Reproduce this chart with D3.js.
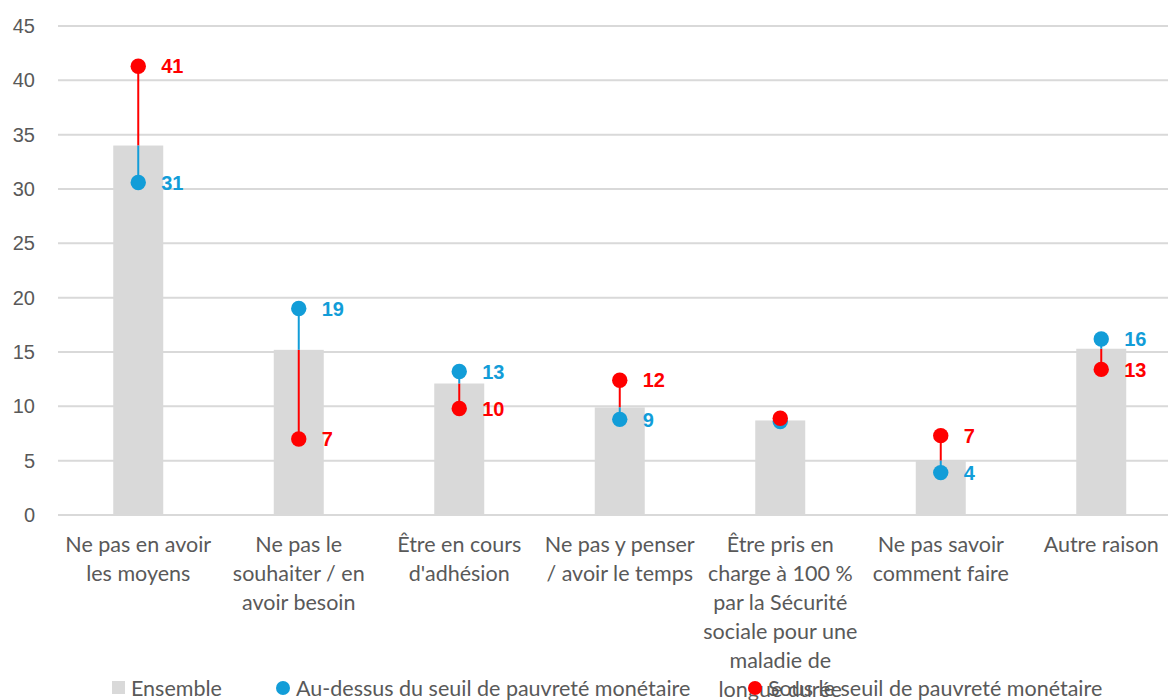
<!DOCTYPE html>
<meta charset="utf-8">
<html>
  <head>
    <style>
      body { margin: 0; background: #fff; }
      text.tick { font-family: "Liberation Sans", Arial, sans-serif; font-size: 20px; fill: #595959; }
      text.cat, text.leg { font-family: Lato, "Open Sans", sans-serif; font-size: 21.5px; fill: #595959; }
      text.lbl { font-family: "Liberation Sans", Arial, sans-serif; font-size: 20px; font-weight: bold; }
      line.grid { stroke: #d9d9d9; stroke-width: 2px; }
    </style>
    <script src="https://d3js.org/d3.v7.min.js"></script>
  </head>
  <body>
    <div id="chart"></div>
    <script type="text/javascript">
      var categories = [
            ["Ne pas en avoir", "les moyens"],
            ["Ne pas le", "souhaiter / en", "avoir besoin"],
            ["Être en cours", "d'adhésion"],
            ["Ne pas y penser", "/ avoir le temps"],
            ["Être pris en", "charge à 100 %", "par la Sécurité", "sociale pour une", "maladie de", "longue durée"],
            ["Ne pas savoir", "comment faire"],
            ["Autre raison"]
          ],
          ensemble = [34.0, 15.2, 12.1, 9.9, 8.7, 5.0, 15.3],
          above    = [30.6, 19.0, 13.2, 8.8, 8.6, 3.9, 16.2],
          below    = [41.3, 7.0, 9.8, 12.4, 8.9, 7.3, 13.4],
          aboveLabels = ["31", "19", "13", "9", null, "4", "16"],
          belowLabels = ["41", "7", "10", "12", null, "7", "13"],
          yTicks = [0, 5, 10, 15, 20, 25, 30, 35, 40, 45],
          legendNames = ["Ensemble", "Au-dessus du seuil de pauvreté monétaire", "Sous le seuil de pauvreté monétaire"];

      var blue = "#129dd8", red = "#ff0000", grey = "#d9d9d9";
      var width = 1168, height = 700;

      var svg = d3.select("#chart").append("svg")
          .attr("width", width)
          .attr("height", height);

      var x = d3.scaleBand()
          .domain(d3.range(categories.length))
          .range([58, 58 + 7 * 160.5]);

      var y = d3.scaleLinear()
          .domain([0, 45])
          .range([515, 26]);

      // gridlines
      svg.selectAll(".grid")
          .data(yTicks)
          .enter().append("line")
            .attr("class", "grid")
            .attr("x1", 58)
            .attr("x2", width)
            .attr("y1", function(d) { return y(d); })
            .attr("y2", function(d) { return y(d); });

      svg.selectAll(".tick")
          .data(yTicks)
          .enter().append("text")
            .attr("class", "tick")
            .attr("x", 35)
            .attr("y", function(d) { return y(d); })
            .attr("dy", "0.35em")
            .style("text-anchor", "end")
            .text(function(d) { return d; });

      var barW = 50;
      var cx = function(i) { return x(i) + x.bandwidth() / 2; };

      // bars
      svg.selectAll(".bar")
          .data(ensemble)
          .enter().append("rect")
            .attr("class", "bar")
            .attr("x", function(d, i) { return cx(i) - barW / 2; })
            .attr("y", function(d) { return y(d); })
            .attr("width", barW)
            .attr("height", function(d) { return y(0) - y(d); })
            .style("fill", grey);

      // error-bar style lines from ensemble value to each series
      var series = [
        { values: below, labels: belowLabels, color: red },
        { values: above, labels: aboveLabels, color: blue }
      ];

      series.forEach(function(s) {
        svg.append("g").selectAll("line")
            .data(s.values)
            .enter().append("line")
              .attr("x1", function(d, i) { return cx(i); })
              .attr("x2", function(d, i) { return cx(i); })
              .attr("y1", function(d, i) { return y(ensemble[i]); })
              .attr("y2", function(d) { return y(d); })
              .style("stroke", s.color)
              .style("stroke-width", 2);
      });

      // dots: blue first, red on top
      [series[1], series[0]].forEach(function(s) {
        svg.append("g").selectAll("circle")
            .data(s.values)
            .enter().append("circle")
              .attr("cx", function(d, i) { return cx(i); })
              .attr("cy", function(d) { return y(d); })
              .attr("r", 7.7)
              .style("fill", s.color);

        var pts = s.values.map(function(v, i) { return { v: v, i: i, t: s.labels[i] }; })
            .filter(function(p) { return p.t != null; });

        svg.append("g").selectAll("text")
            .data(pts)
            .enter().append("text")
              .attr("class", "lbl")
              .attr("x", function(p) { return cx(p.i) + 23; })
              .attr("y", function(p) { return y(p.v); })
              .attr("dy", "0.36em")
              .style("fill", s.color)
              .text(function(p) { return p.t; });
      });

      // category labels
      var catG = svg.selectAll(".catg")
          .data(categories)
          .enter().append("text")
            .attr("class", "cat")
            .style("text-anchor", "middle")
            .attr("transform", function(d, i) { return "translate(" + cx(i) + ",552)"; });

      catG.selectAll("tspan")
          .data(function(d) { return d; })
          .enter().append("tspan")
            .attr("x", 0)
            .attr("y", function(d, j) { return j * 29; })
            .text(function(d) { return d; });

      // legend
      var lg = svg.append("g").attr("transform", "translate(0,688)");
      lg.append("rect").attr("x", 112).attr("y", -7).attr("width", 13).attr("height", 13).style("fill", grey);
      lg.append("circle").attr("cx", 283).attr("cy", 0).attr("r", 7).style("fill", blue);
      lg.append("circle").attr("cx", 755).attr("cy", 0).attr("r", 7).style("fill", red);
      lg.selectAll(".leg")
          .data(legendNames)
          .enter().append("text")
            .attr("class", "leg")
            .attr("x", function(d, i) { return [131, 296, 768][i]; })
            .attr("y", 0)
            .attr("dy", "0.35em")
            .text(function(d) { return d; });
    </script>
  </body>
</html>
